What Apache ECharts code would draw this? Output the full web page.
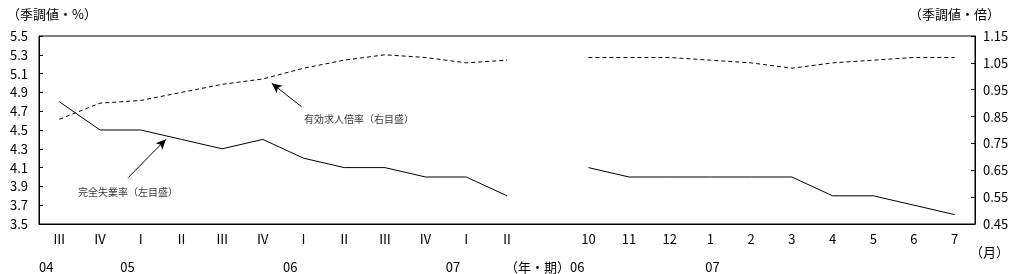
<!DOCTYPE html>
<html><head><meta charset="utf-8">
<script src="https://cdn.jsdelivr.net/npm/echarts@6/dist/echarts.min.js"></script>
<style>html,body{margin:0;padding:0;background:#fff}#c{width:1013px;height:274px}</style>
</head><body><div id="c"></div>
<script>
// Categories: quarters 2004 III - 2007 II, a gap, then months Oct 2006 - Jul 2007
const periodLabels = ['Ⅲ','Ⅳ','Ⅰ','Ⅱ','Ⅲ','Ⅳ','Ⅰ','Ⅱ','Ⅲ','Ⅳ','Ⅰ','Ⅱ','','10','11','12','1','2','3','4','5','6','7'];
const yearLabels = ['04','','05','','','','06','','','','07','','','（年・期）06','','','07','','','','','',''];
// 完全失業率 (left axis, %)
const unemployment = [4.8,4.5,4.5,4.4,4.3,4.4,4.2,4.1,4.1,4.0,4.0,3.8,null,4.1,4.0,4.0,4.0,4.0,4.0,3.8,3.8,3.7,3.6];
// 有効求人倍率 (right axis, times)
const jobRatio = [0.84,0.90,0.91,0.94,0.97,0.99,1.03,1.06,1.08,1.07,1.05,1.06,null,1.07,1.07,1.07,1.06,1.05,1.03,1.05,1.06,1.07,1.07];
const leftAxis = {min: 3.5, max: 5.5, step: 0.2};
const rightAxis = {min: 0.45, max: 1.15, step: 0.1};
const annotations = ['有効求人倍率（右目盛）', '完全失業率（左目盛）'];

const FONT = "'Noto Sans CJK JP', sans-serif";
const chart = echarts.init(document.getElementById('c'), null, {renderer: 'canvas'});

const yearData = yearLabels.map((v, i) => {
  if (!v) return '';
  if (i === 16) return {value: v, textStyle: {align: 'center', padding: [0, 0, 0, 4]}};
  if (i === 13) return {value: v, textStyle: {align: 'right', padding: [0, 4, 0, 0]}};
  return {value: v, textStyle: {align: 'right', padding: [0, 6, 0, 0]}};
});

const titleStyle = {fontFamily: FONT, fontSize: 13, fontWeight: 'normal', color: '#000'};

chart.setOption({
  animation: false,
  backgroundColor: '#fff',
  textStyle: {fontFamily: FONT, color: '#000'},
  title: [
    {text: '（季調値・%）', left: 2, top: 3, textStyle: titleStyle},
    {text: '（季調値・倍）', right: 8, top: 3, textStyle: titleStyle},
    {text: '（月）', left: 965, top: 241, textStyle: titleStyle}
  ],
  grid: {left: 39, right: 38, top: 36, bottom: 50, containLabel: false, outerBoundsMode: 'none',
         show: true, borderColor: '#000', borderWidth: 1, backgroundColor: 'transparent'},
  xAxis: [
    {type: 'category', data: periodLabels, boundaryGap: true, position: 'bottom',
     axisLine: {lineStyle: {color: '#000'}}, axisTick: {show: false},
     axisLabel: {interval: 0, margin: 9, color: '#000', fontFamily: FONT, fontSize: 13}},
    {type: 'category', data: yearData, boundaryGap: true, position: 'bottom',
     axisLine: {show: false}, axisTick: {show: false},
     axisLabel: {interval: 0, margin: 37, color: '#000', fontFamily: FONT, fontSize: 13}},
    {type: 'value', min: 0, max: 23, show: false}
  ],
  yAxis: [
    {type: 'value', min: leftAxis.min, max: leftAxis.max, interval: leftAxis.step, position: 'left',
     axisLine: {show: true, lineStyle: {color: '#000'}},
     axisTick: {show: true, inside: true, length: 4, lineStyle: {color: '#000'}},
     splitLine: {show: false},
     axisLabel: {margin: 11, color: '#000', fontFamily: FONT, fontSize: 13, formatter: v => v.toFixed(1)}},
    {type: 'value', min: rightAxis.min, max: rightAxis.max, interval: rightAxis.step, position: 'right',
     axisLine: {show: true, lineStyle: {color: '#000'}},
     axisTick: {show: true, inside: true, length: 4, lineStyle: {color: '#000'}},
     splitLine: {show: false},
     axisLabel: {margin: 8, color: '#000', fontFamily: FONT, fontSize: 13, formatter: v => v.toFixed(2)}}
  ],
  series: [
    {name: '完全失業率', type: 'line', xAxisIndex: 0, yAxisIndex: 0, data: unemployment,
     showSymbol: false, symbol: 'none', connectNulls: false,
     lineStyle: {color: '#000', width: 1, type: 'solid'}},
    {name: '有効求人倍率', type: 'line', xAxisIndex: 0, yAxisIndex: 1, data: jobRatio,
     showSymbol: false, symbol: 'none', connectNulls: false,
     lineStyle: {color: '#000', width: 1, type: [4, 3]}},
    {name: 'annotations', type: 'scatter', xAxisIndex: 2, yAxisIndex: 0, silent: true,
     symbolSize: 0, itemStyle: {color: '#000'},
     data: [{name: annotations[0], value: [6.51, 4.614]}, {name: annotations[1], value: [0.96, 3.833]}],
     label: {show: true, position: 'right', distance: 0, formatter: '{b}', color: '#000', fontFamily: FONT, fontSize: 10}},
    {name: 'arrows', type: 'line', xAxisIndex: 2, yAxisIndex: 0, silent: true, data: [],
     itemStyle: {color: '#000'}, lineStyle: {color: '#000'},
     markLine: {silent: true, symbol: ['none', 'arrow'], symbolSize: [7, 10],
       label: {show: false}, lineStyle: {color: '#000', width: 1, type: 'solid'},
       itemStyle: {color: '#000'},
       data: [
         [{coord: [6.45, 4.748]}, {coord: [5.72, 4.997]}],
         [{coord: [2.19, 3.993]}, {coord: [3.12, 4.401]}]
       ]}}
  ]
});
</script></body></html>
